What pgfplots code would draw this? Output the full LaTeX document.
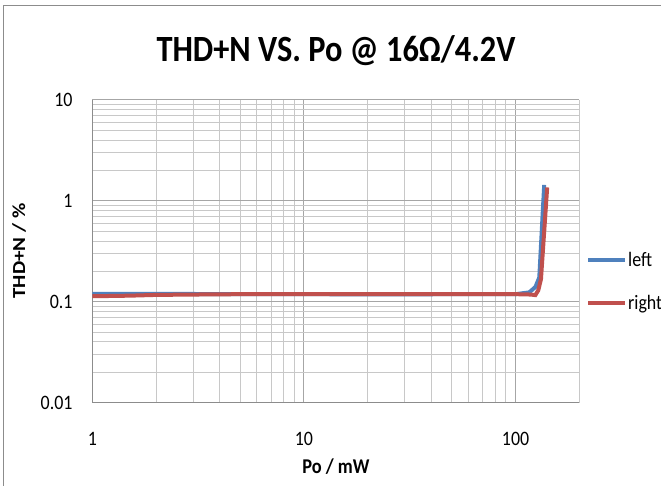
\documentclass[border=0pt]{standalone}
\usepackage{pgfplots}
\pgfplotsset{compat=1.18}
\usepackage{fontspec}
\setmainfont{Carlito}
\usepackage{graphicx}
\definecolor{xlblue}{HTML}{4F81BD}
\definecolor{xlred}{HTML}{C0504D}
\definecolor{majgrid}{HTML}{A6A6A6}
\definecolor{mingrid}{HTML}{C8C8C8}
\definecolor{framec}{HTML}{8C8C8C}
\newcommand\sq[1]{\scalebox{0.875}[1]{#1}}
\newcommand\tickfont{\fontsize{20.5}{24}\selectfont}
\begin{document}
\begin{tikzpicture}[x=1pt,y=1pt]
\path[use as bounding box] (0,0) rectangle (661,486);
\draw[framec, line width=1.5pt] (3.5,-10) -- (3.5,480.5) -- (680,480.5);
\node[anchor=base, font=\fontsize{37}{44}\selectfont\bfseries] at (336,424) {\sq{THD+N VS. Po @ 16Ω/4.2V}};
\node[anchor=base, font=\fontsize{21}{25}\selectfont\bfseries] at (336,12) {\sq{Po / mW}};
\node[rotate=90, font=\fontsize{21}{25}\selectfont\bfseries] at (19,235) {\scalebox{1}[0.875]{THD+N / \%}};
\begin{axis}[
  at={(92.3pt,83.3pt)}, anchor=south west,
  scale only axis, width=487pt, height=302.7pt,
  xmode=log, ymode=log, xmin=1, xmax=200, ymin=0.01, ymax=10,
  axis x line=bottom, axis y line=left,
  axis line style={framec, line width=1pt, -},
  grid=both,
  major grid style={majgrid, line width=1pt},
  minor grid style={mingrid, line width=1pt},
  major tick length=0pt, minor tick length=0pt,
  xtick={1,10,100}, ytick={0.01,0.1,1,10},
  minor xtick={2,3,4,5,6,7,8,9,20,30,40,50,60,70,80,90,200},
  minor ytick={0.02,0.03,0.04,0.05,0.06,0.07,0.08,0.09,0.2,0.3,0.4,0.5,0.6,0.7,0.8,0.9,2,3,4,5,6,7,8,9},
  xticklabels={}, yticklabels={},
  clip=false,
  legend image code/.code={\draw[#1, line width=4pt] (0pt,0pt) -- (37pt,0pt);},
  legend style={at={(1.0137,0.3997)}, anchor=west, draw=none, fill=none,
    inner sep=0pt, row sep=25pt, font=\tickfont, cells={anchor=west},
    nodes={inner sep=1pt}},
]
\addplot[xlblue, line width=4pt] coordinates {
(1,0.120) (1.5,0.120) (2,0.120) (3,0.1195) (5,0.119) (10,0.119) (20,0.1185) (30,0.1185) (50,0.119) (70,0.119) (100,0.119) (116,0.124) (124,0.14) (129.4,0.174) (136.5,1.44)
};
\addlegendentry{\sq{left}}
\addplot[xlred, line width=4pt] coordinates {
(1,0.1135) (1.5,0.115) (2,0.117) (3,0.118) (5,0.119) (10,0.119) (20,0.119) (30,0.119) (50,0.119) (70,0.119) (100,0.119) (118,0.118) (124,0.1165) (128,0.13) (131.8,0.168) (141,1.36)
};
\addlegendentry{\sq{right}}
\node[anchor=base, font=\tickfont, yshift=-43.3pt] at (axis cs:1,0.01) {\sq{1}};
\node[anchor=base, font=\tickfont, yshift=-43.3pt] at (axis cs:10,0.01) {\sq{10}};
\node[anchor=base, font=\tickfont, yshift=-43.3pt] at (axis cs:100,0.01) {\sq{100}};
\node[anchor=east, font=\tickfont, xshift=-16.3pt] at (axis cs:1,0.01) {\sq{0.01}};
\node[anchor=east, font=\tickfont, xshift=-16.3pt] at (axis cs:1,0.1) {\sq{0.1}};
\node[anchor=east, font=\tickfont, xshift=-16.3pt] at (axis cs:1,1) {\sq{1}};
\node[anchor=east, font=\tickfont, xshift=-16.3pt] at (axis cs:1,10) {\sq{10}};
\end{axis}
\end{tikzpicture}
\end{document}
